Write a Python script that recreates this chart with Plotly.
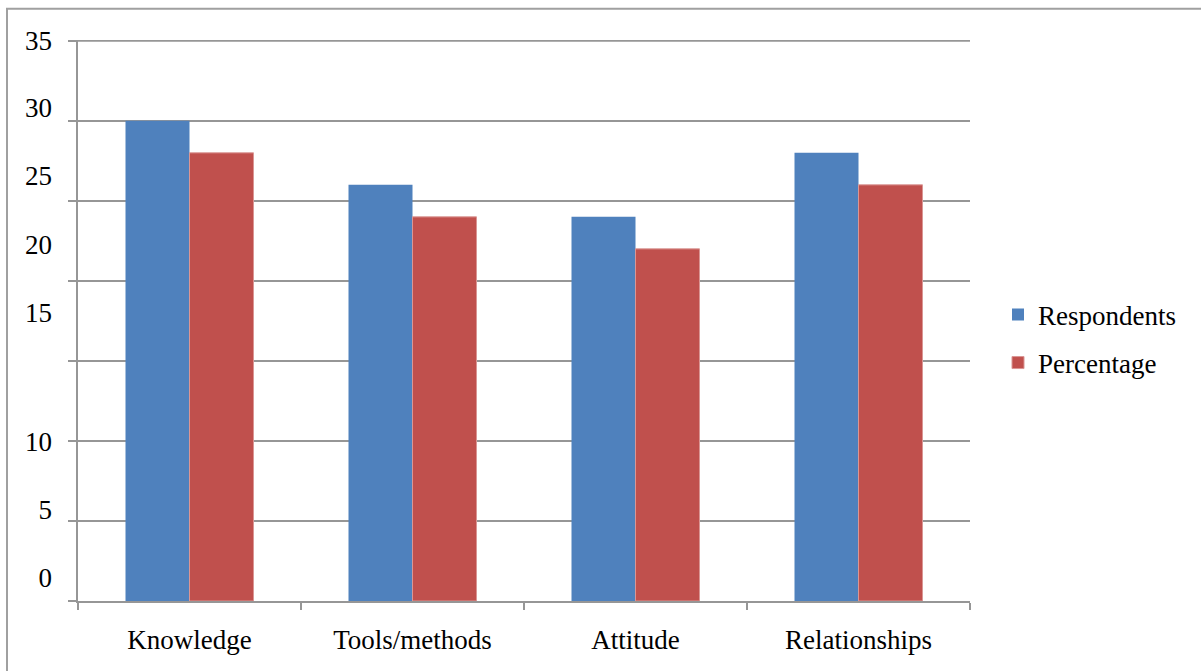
import plotly.graph_objects as go

# Categories and series values
categories = ["Knowledge", "Tools/methods", "Attitude", "Relationships"]
respondents = [30, 26, 24, 28]
percentage = [28, 24, 22, 26]

# Y-axis label text and the heights at which the labels are printed
y_label_text = ["35", "30", "25", "20", "15", "10", "5", "0"]
y_label_pos = [35.0, 30.8, 26.6, 22.25, 18.05, 9.95, 5.7, 1.45]

BLUE = "#4F81BD"
RED = "#C0504D"
GRID = "#969696"
FONT = dict(family="Liberation Serif", size=27, color="#000000")

fig = go.Figure()
fig.add_trace(go.Bar(
    x=categories, y=respondents, name="Respondents",
    marker=dict(color=BLUE, line=dict(color=BLUE, width=0)),
    legendgroup="a",
))
fig.add_trace(go.Bar(
    x=categories, y=percentage, name="Percentage",
    marker=dict(color=RED, line=dict(color="#DA9694", width=1)),
    legendgroup="b",
))
# invisible trace carrying the left-hand labels
fig.add_trace(go.Scatter(
    x=categories, y=[None] * len(categories), yaxis="y2",
    showlegend=False, hoverinfo="skip",
))

W, H = 1201, 671
YMAX = 35.05
ML, MR, MB = 78, 231, 70
MT = 41 - (YMAX - 35) * 16
pw, ph = W - ML - MR, H - MT - MB

fig.update_layout(
    width=W, height=H,
    margin=dict(l=ML, r=MR, t=MT, b=MB, pad=0),
    paper_bgcolor="white", plot_bgcolor="white",
    font=FONT,
    barmode="group", bargap=0.426, bargroupgap=0,
    showlegend=True,
    legend=dict(
        x=(998 - ML) / pw, y=(H - MB - 339) / ph,
        xanchor="left", yanchor="middle",
        font=FONT, bgcolor="rgba(0,0,0,0)",
        tracegroupgap=10, traceorder="grouped",
        itemwidth=30,
    ),
    xaxis=dict(
        type="category",
        showline=True, linecolor=GRID, linewidth=2,
        ticks="outside", ticklen=7, tickwidth=2, tickcolor=GRID,
        tickson="boundaries",
        showgrid=False, zeroline=False,
        ticklabelstandoff=14,
        tickfont=FONT,
    ),
    yaxis=dict(
        range=[0, YMAX], dtick=5, tick0=0,
        showgrid=True, gridcolor=GRID, gridwidth=2,
        showline=True, linecolor=GRID, linewidth=2,
        ticks="outside", ticklen=8, tickwidth=2, tickcolor=GRID,
        showticklabels=False, zeroline=False,
    ),
    yaxis2=dict(
        range=[0, YMAX], overlaying="y", side="left",
        tickmode="array", tickvals=y_label_pos, ticktext=y_label_text,
        showgrid=False, showline=False, zeroline=False,
        ticks="", ticklabelstandoff=25,
        tickfont=FONT,
    ),
)

# top gridline at the axis maximum
fig.add_shape(
    type="line", xref="paper", yref="y", x0=0, x1=1, y0=35, y1=35,
    line=dict(color=GRID, width=2), layer="below",
)

# outer frame around the chart
fig.add_shape(
    type="rect", xref="paper", yref="paper",
    x0=(7 - ML) / pw, x1=(W + 20 - ML) / pw,
    y0=(H - MB - (H + 20)) / ph, y1=(H - MB - 9) / ph,
    line=dict(color="#A0A0A0", width=2), fillcolor="rgba(0,0,0,0)",
    layer="below",
)

fig.write_html("out.html")
